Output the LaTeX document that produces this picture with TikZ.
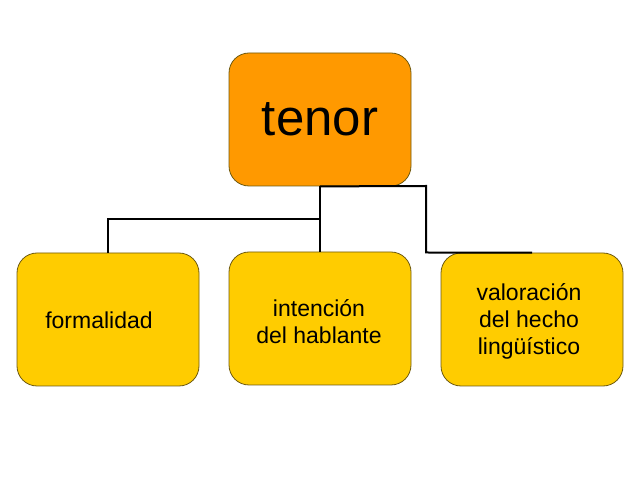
\documentclass[tikz,border=0pt]{standalone}
\usepackage{fontspec}
\setmainfont{Liberation Sans}
\definecolor{orangec}{HTML}{FF9900}
\definecolor{yellowc}{HTML}{FFCC00}
\definecolor{edgec}{HTML}{6E5A10}
\begin{document}
\begin{tikzpicture}[x=1pt,y=-1pt,
  box/.style={draw=edgec, line width=0.8pt, rounded corners=20pt,
    minimum width=182pt, minimum height=133pt, inner sep=0pt},
  txt/.style={font=\fontsize{23}{27}\selectfont, align=center, inner sep=0pt},
  conn/.style={draw=black, line width=2pt}]
\useasboundingbox (0,0) rectangle (638,478);
\node[box, fill=orangec, font=\fontsize{51}{56}\selectfont] (tenor) at (320,119.5) {tenor};
\node[box, fill=yellowc] (form) at (108,319.5) {};
\node[box, fill=yellowc] (inte) at (320,318.5) {};
\node[box, fill=yellowc] (valo) at (532,319.5) {};
\node[txt] (formt) at (99,320) {formalidad};
\node[txt] (intet) at (319,322) {intención\\del hablante};
\node[txt] (valot) at (529,321.5) {valoración\\del hecho\\lingüístico};
\coordinate (j1) at (320,219);
\coordinate (j2) at (426,186);
\coordinate (j3) at (426,252.5);
\draw[conn] (tenor.south) -- (inte.north);
\draw[conn] (j1) -| (form.north);
\draw[conn] (tenor.south) -- (j2) -- (j3) -- (valo.north);
\end{tikzpicture}
\end{document}
